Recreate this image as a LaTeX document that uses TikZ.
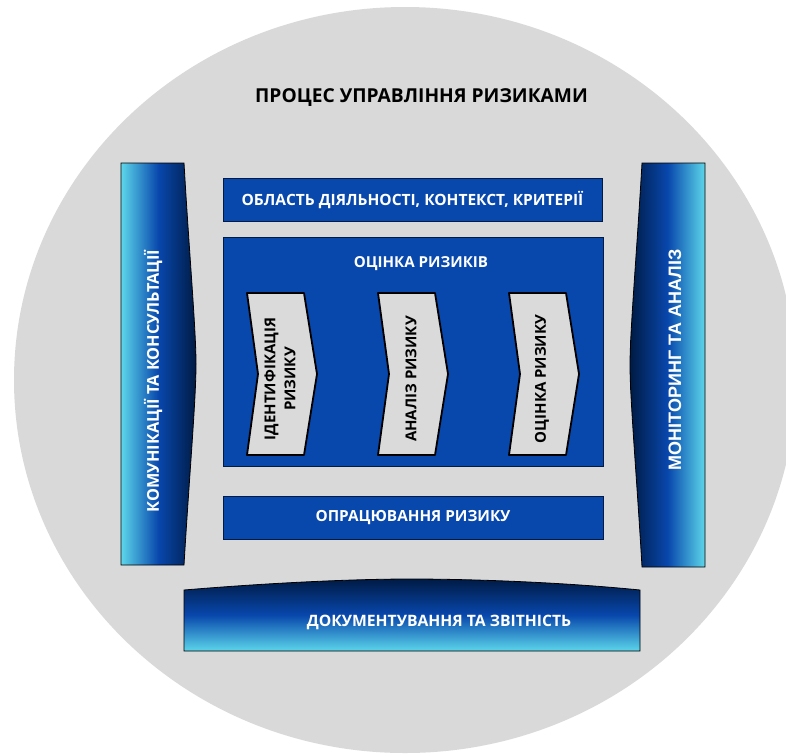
\documentclass[tikz,border=0pt]{standalone}
\usepackage{fontspec}
\setmainfont{Open Sans}
\newfontfamily\barfont{Liberation Sans}
\definecolor{bggray}{HTML}{D9D9D9}
\definecolor{boxblue}{HTML}{0847AC}
\definecolor{navy}{HTML}{001B45}
\definecolor{cyanlight}{HTML}{5CD6EA}
\definecolor{chevgray}{HTML}{DADADA}
\tikzset{
  bluebox/.style={draw=navy, fill=boxblue, line width=0.8pt, text=white, inner sep=0pt,
    font=\bfseries\fontsize{15.3}{17}\selectfont},
  barlabel/.style={text=white, rotate=90, font=\bfseries\fontsize{16.3}{18}\selectfont},
  chevlabel/.style={rotate=90, align=center, font=\bfseries\fontsize{15}{20}\selectfont},
  barline/.style={draw=black, line width=0.8pt},
}
\begin{document}
\begin{tikzpicture}[x=1pt,y=-1pt]
    \useasboundingbox (0,0) rectangle (786,753);
    \fill[white] (0,0) rectangle (786,753);
    \fill[bggray] (405,380) ellipse (391pt and 373pt);
    \node[font=\bfseries\fontsize{19.2}{21}\selectfont] (title) at (421.5,98) {ПРОЦЕС УПРАВЛІННЯ РИЗИКАМИ};
    % central column
    \node[bluebox, minimum width=379pt, minimum height=43pt, font=\bfseries\fontsize{15.5}{17}\selectfont] (scope) at (412.5,199.5) {ОБЛАСТЬ ДІЯЛЬНОСТІ, КОНТЕКСТ, КРИТЕРІЇ};
    \node[bluebox, minimum width=380pt, minimum height=229pt] (assess) at (413,351.5) {};
    \node[text=white, font=\bfseries\fontsize{15.1}{17}\selectfont] (assesstitle) at (421,264) {ОЦІНКА РИЗИКІВ};
    \node[bluebox, minimum width=380pt, minimum height=43pt] (treat) at (413,517.5) {ОПРАЦЮВАННЯ РИЗИКУ};
    \foreach \x/\nm/\txt in {247/ident/{ІДЕНТИФІКАЦІЯ\\РИЗИКУ}, 378/anal/{АНАЛІЗ РИЗИКУ}, 509/eval/{ОЦІНКА РИЗИКУ}} {
      \draw[fill=chevgray, line width=1.8pt, line join=round] (\x,293) -- ++(57,0) -- ++(13,81) -- ++(-13,81) -- ++(-57,0) -- ++(11,-81) -- cycle;
      \node[chevlabel] (\nm) at (\x+33,379) {\txt};
    }
    % side bars
    \draw[barline, left color=cyanlight, right color=navy, middle color=boxblue] (121,163) -- (184,163) .. controls (189,250) and (196,330) .. (196,364) .. controls (196,400) and (189,480) .. (184,565) -- (121,565) -- cycle;
    \node[barlabel] (comm) at (153,381) {КОМУНІКАЦІЇ ТА КОНСУЛЬТАЦІЇ};
    \draw[barline, left color=navy, right color=cyanlight, middle color=boxblue] (642,163) -- (705,163) -- (705,567) -- (642,567) .. controls (637,480) and (630,400) .. (630,365) .. controls (630,330) and (637,250) .. (642,163) -- cycle;
    \node[barlabel, font=\barfont\bfseries\fontsize{18}{20}\selectfont] (monitor) at (675,360) {МОНІТОРИНГ ТА АНАЛІЗ};
    \draw[barline, top color=navy, bottom color=cyanlight, middle color=boxblue] (184,590) .. controls (280,582) and (360,579) .. (410,579) .. controls (470,579) and (560,582) .. (640,590) -- (640,651) -- (184,651) -- cycle;
    \node[text=white, font=\bfseries\fontsize{15.7}{17}\selectfont] (report) at (439,622) {ДОКУМЕНТУВАННЯ ТА ЗВІТНІСТЬ};
\end{tikzpicture}
\end{document}
